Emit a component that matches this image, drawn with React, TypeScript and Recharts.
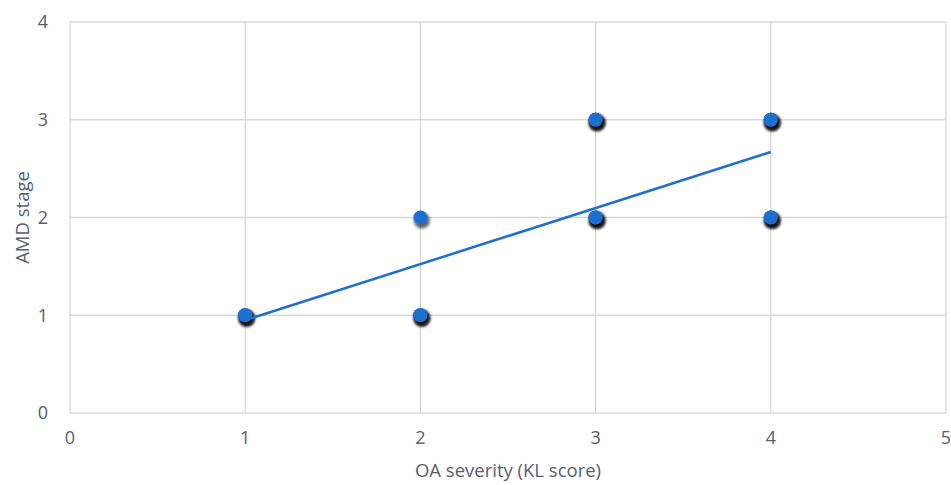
import React from "react";
import { ScatterChart, Scatter, XAxis, YAxis, CartesianGrid } from "recharts";

// each patient is one point; repeated pairs overlap in the picture
const KL_SCORES = [1, 1, 1, 2, 2, 2, 2, 3, 3, 3, 3, 3, 3, 4, 4, 4, 4, 4, 4];
const AMD_STAGES = [1, 1, 1, 1, 1, 1, 2, 2, 2, 2, 3, 3, 3, 2, 2, 2, 3, 3, 3];

// linear trendline ends
const TREND_X = [1, 4];
const TREND_Y = [0.95, 2.67];

const X_TICKS = [0, 1, 2, 3, 4, 5];
const Y_TICKS = [0, 1, 2, 3, 4];

const BLUE = "#1f6fd0";
const GRID = "#d9d9d9";
const TEXT = "#56606d";
const FONT = "'Open Sans', 'Noto Sans', sans-serif";

const points = KL_SCORES.map((x, i) => ({ x, y: AMD_STAGES[i] }));
const trend = TREND_X.map((x, i) => ({ x, y: TREND_Y[i] }));

const ShadowDot = (props: any) => {
    const { cx, cy } = props;
    if (cx == null || cy == null) return <g />;
    return (
        <g>
            <defs>
                <filter id="ptShadow" x="-60%" y="-60%" width="220%" height="220%">
                    <feGaussianBlur stdDeviation="1.8" />
                </filter>
            </defs>
            <circle cx={cx + 1.5} cy={cy + 3} r={8} fill="#000" opacity={0.6} filter="url(#ptShadow)" />
            <circle cx={cx} cy={cy} r={7} fill={BLUE} />
        </g>
    );
};

const NoDot = () => <g />;

const XTitle = ({ viewBox }: any) => {
    const cx = viewBox.x + viewBox.width / 2;
    return (
        <text x={cx} y={477} textAnchor="middle" fill={TEXT} fontSize={18.5} fontFamily={FONT}>
            OA severity (KL score)
        </text>
    );
};

const YTitle = ({ viewBox }: any) => {
    const cy = viewBox.y + viewBox.height / 2;
    return (
        <text
            x={21}
            y={cy}
            textAnchor="middle"
            dominantBaseline="central"
            transform={`rotate(-90 21 ${cy})`}
            fill={TEXT}
            fontSize={18.5}
            fontFamily={FONT}
        >
            AMD stage
        </text>
    );
};

export default function App() {
    return (
        <div style={{ position: "absolute", left: 0, top: 0, background: "#fff" }}>
            <ScatterChart width={951} height={485} margin={{ top: 22, right: 5, bottom: 0, left: 0 }}>
                <CartesianGrid stroke={GRID} strokeWidth={1.3} />
                <XAxis
                    type="number"
                    dataKey="x"
                    domain={[0, 5]}
                    ticks={X_TICKS}
                    height={72}
                    axisLine={false}
                    tickLine={false}
                    tickSize={0}
                    tickMargin={18}
                    tick={{ fill: TEXT, fontSize: 18, fontFamily: FONT }}
                    label={{ content: XTitle }}
                />
                <YAxis
                    type="number"
                    dataKey="y"
                    domain={[0, 4]}
                    ticks={Y_TICKS}
                    width={70}
                    axisLine={false}
                    tickLine={false}
                    tickSize={0}
                    tickMargin={22}
                    tick={{ fill: TEXT, fontSize: 18, fontFamily: FONT }}
                    label={{ content: YTitle }}
                />
                <Scatter data={points} shape={ShadowDot} isAnimationActive={false} />
                <Scatter
                    data={trend}
                    shape={NoDot}
                    line={{ stroke: BLUE, strokeWidth: 2.5 }}
                    isAnimationActive={false}
                />
            </ScatterChart>
        </div>
    );
}
